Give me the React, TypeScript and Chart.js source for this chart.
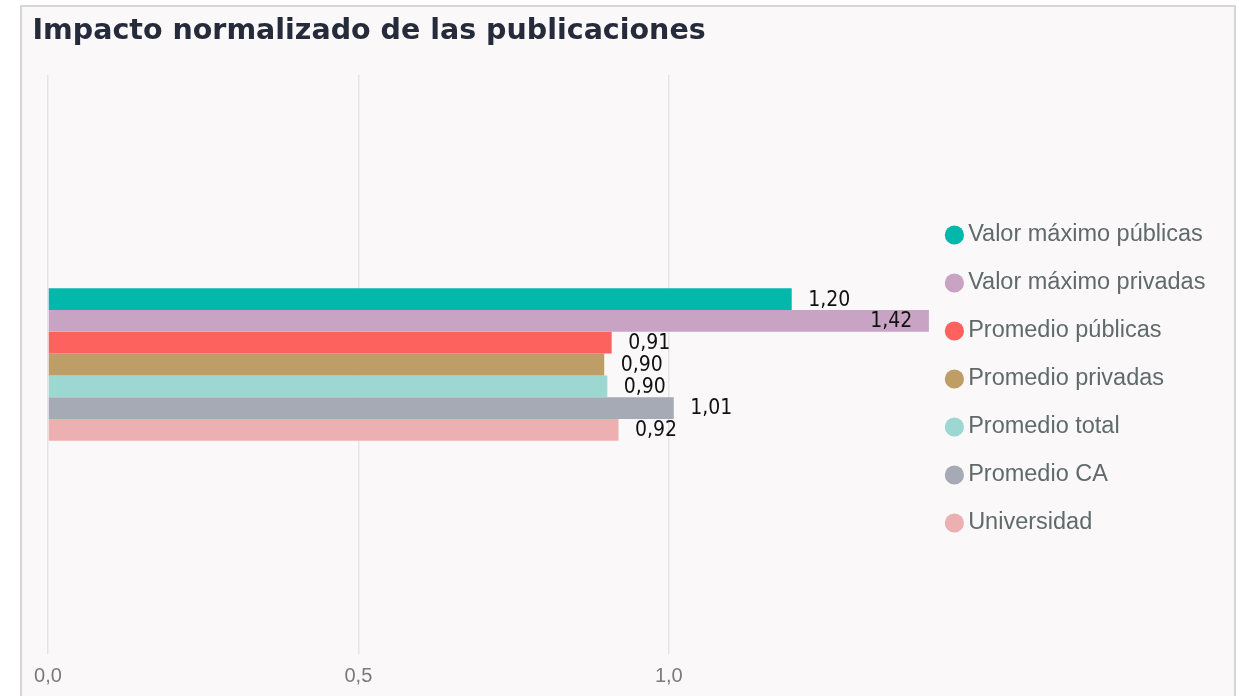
import React, { useEffect, useRef } from 'react';
import { Chart, registerables } from 'chart.js';

Chart.register(...registerables);

const chartTitle = 'Impacto normalizado de las publicaciones';
const categories = [''];
const seriesNames = [
  'Valor máximo públicas',
  'Valor máximo privadas',
  'Promedio públicas',
  'Promedio privadas',
  'Promedio total',
  'Promedio CA',
  'Universidad',
];
const seriesValues = [1.198, 1.419, 0.908, 0.896, 0.901, 1.008, 0.919];
const seriesColors = ['#01b8aa', '#c9a3c3', '#fd625e', '#be9e66', '#9cd8d1', '#a6aab5', '#ecb0b0'];
const xTickValues = [0, 0.5, 1.0];

const fmt = (v: number, d: number) => v.toFixed(d).replace('.', ',');

const valueLabelPlugin = {
  id: 'valueLabels',
  afterDatasetsDraw(chart: any) {
    const { ctx, chartArea } = chart;
    ctx.save();
    ctx.font = '21px "DejaVu Sans Condensed", "DejaVu Sans", sans-serif';
    ctx.fillStyle = '#111111';
    ctx.textBaseline = 'middle';
    chart.data.datasets.forEach((ds: any, i: number) => {
      const meta = chart.getDatasetMeta(i);
      meta.data.forEach((bar: any, j: number) => {
        const v = ds.data[j] as number;
        const text = fmt(v, 2);
        const w = ctx.measureText(text).width;
        const gap = 16.5;
        if (bar.x + gap + w > chartArea.right) {
          ctx.textAlign = 'right';
          ctx.fillText(text, bar.x - gap, bar.y + 1);
        } else {
          ctx.textAlign = 'left';
          ctx.fillText(text, bar.x + gap, bar.y + 1);
        }
      });
    });
    ctx.restore();
  },
};

export default function App() {
  const canvasRef = useRef<HTMLCanvasElement | null>(null);

  useEffect(() => {
    if (!canvasRef.current) return;
    const legendColor = '#5f6a6a';
    const chart = new Chart(canvasRef.current, {
      type: 'bar',
      data: {
        labels: categories,
        datasets: seriesNames.map((name, i) => ({
          label: name,
          data: [seriesValues[i]],
          backgroundColor: seriesColors[i],
          borderWidth: 0,
          barPercentage: 1,
          categoryPercentage: 0.263,
        })),
      },
      options: {
        indexAxis: 'y',
        responsive: false,
        animation: false,
        layout: { padding: { left: 10.5, right: 18.6, top: 0, bottom: 25 } },
        scales: {
          x: {
            type: 'linear',
            min: 0,
            max: Math.max(...seriesValues),
            afterBuildTicks: (scale: any) => {
              scale.ticks = xTickValues.map((v) => ({ value: v }));
            },
            afterFit: (s: any) => {
              s.paddingLeft = 0;
              s.paddingRight = 0;
            },
            ticks: {
              color: '#7a7a7a',
              padding: 17,
              font: { family: '"Liberation Sans", Arial, sans-serif', size: 20, lineHeight: 0.5 },
              callback: (v: any) => fmt(Number(v), 1),
            },
            grid: { color: '#e6e4e5', lineWidth: 1.5, drawTicks: false },
            border: { display: false },
          },
          y: {
            type: 'category',
            ticks: { display: false },
            grid: { display: false },
            border: { display: false },
            afterFit: (s: any) => {
              s.width = 15.5;
            },
          },
        },
        plugins: {
          tooltip: { enabled: false },
          title: {
            display: true,
            text: chartTitle,
            align: 'start',
            color: '#252b3a',
            font: { family: '"DejaVu Sans", sans-serif', size: 28.5, weight: 'bold', lineHeight: 1.2 },
            padding: { top: 7.7, bottom: 26.1 },
          },
          legend: {
            position: 'right',
            align: 'start',
            title: {
              display: true,
              text: ' ',
              font: { size: 10, lineHeight: 1 },
              padding: { top: 0, bottom: 182.75 },
            },
            labels: {
              usePointStyle: true,
              pointStyle: 'circle',
              boxWidth: 4,
              boxHeight: 13.6,
              padding: 23.5,
              color: legendColor,
              font: { family: '"Liberation Sans", Arial, sans-serif', size: 23.5, lineHeight: 24.5 / 23.5 },
              generateLabels: (c: any) =>
                c.data.datasets.map((ds: any, i: number) => ({
                  text: [ds.label],
                  fillStyle: ds.backgroundColor,
                  strokeStyle: ds.backgroundColor,
                  lineWidth: 0,
                  pointStyle: 'circle',
                  hidden: false,
                  datasetIndex: i,
                  fontColor: legendColor,
                })),
            },
          },
        },
      },
      plugins: [valueLabelPlugin],
    } as any);
    return () => chart.destroy();
  }, []);

  return (
    <div
      style={{
        position: 'fixed',
        left: 20,
        top: 5,
        width: 1216,
        height: 720,
        border: '2px solid #d6d6d6',
        background: '#faf8f9',
        boxSizing: 'border-box',
      }}
    >
      <canvas ref={canvasRef} width={1212} height={716} style={{ display: 'block' }} />
    </div>
  );
}
